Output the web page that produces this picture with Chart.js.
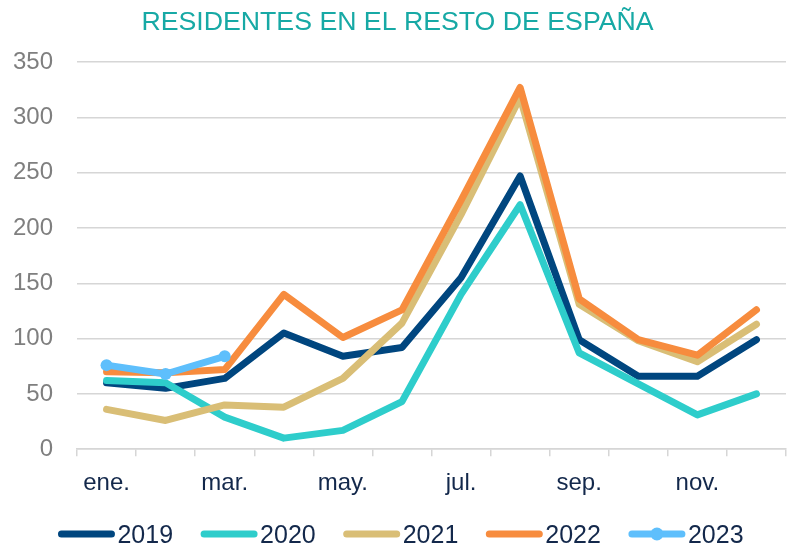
<!DOCTYPE html>
<html>
<head>
<meta charset="utf-8">
<script src="https://cdn.jsdelivr.net/npm/chart.js@4"></script>
<style>
  html, body { margin: 0; padding: 0; background: #ffffff; }
  #wrap { width: 792px; height: 547px; }
</style>
</head>
<body>
<div id="wrap"><canvas id="residentesChart" width="792" height="547"></canvas></div>
<script>
var months = ['ene.', 'feb.', 'mar.', 'abr.', 'may.', 'jun.', 'jul.', 'ago.', 'sep.', 'oct.', 'nov.', 'dic.'];
var yTicks = [0, 50, 100, 150, 200, 250, 300, 350];

var years = ['2019', '2020', '2021', '2022', '2023'];
var v2019 = [60, 55, 64, 105, 84, 92, 155, 247, 99, 66, 66, 99];
var v2020 = [62, 60, 29, 10, 17, 43, 140, 221, 87, 59, 31, 50];
var v2021 = [36, 26, 40, 38, 64, 114, 212, 318, 131, 98, 79, 113];
var v2022 = [70, 69, 72, 140, 101, 126, 225, 327, 136, 99, 85, 126];
var v2023 = [76, 68, 84];

var lineColors = ['#00467f', '#2ecdcb', '#d9be76', '#f78c3e', '#5ebffc'];
var allValues = [v2019, v2020, v2021, v2022, v2023];

var gridColor = '#d6d6d6';
var navyText = '#13284b';

var datasets = years.map(function(year, i) {
    var isLast = i === years.length - 1;
    return {
        label: year,
        data: allValues[i],
        borderColor: lineColors[i],
        backgroundColor: lineColors[i],
        borderWidth: 7,
        borderCapStyle: 'round',
        borderJoinStyle: 'round',
        pointRadius: isLast ? 6 : 0,
        pointBorderWidth: 0,
        pointBackgroundColor: lineColors[i],
        tension: 0,
        fill: false,
        order: years.length - i
    };
});

// legend drawn by hand: long rounded line + text, close together like the original
var lineLegend = {
    id: 'lineLegend',
    afterDraw: function(chart) {
        var ctx = chart.ctx;
        var lineLen = 56, gapText = 3, gapItem = 28, yLine = 534;
        ctx.save();
        ctx.font = '25px "Liberation Sans", Arial, sans-serif';
        var widths = chart.data.datasets.map(function(ds) {
            return lineLen + gapText + ctx.measureText(ds.label).width;
        });
        var total = widths.reduce(function(a, b) { return a + b; }, 0) + gapItem * (widths.length - 1);
        var x = 401 - total / 2;
        chart.data.datasets.forEach(function(ds, i) {
            ctx.strokeStyle = ds.borderColor;
            ctx.lineWidth = 7;
            ctx.lineCap = 'round';
            ctx.beginPath();
            ctx.moveTo(x + 3, yLine);
            ctx.lineTo(x + lineLen - 3, yLine);
            ctx.stroke();
            if (ds.pointRadius > 0) {
                ctx.fillStyle = ds.borderColor;
                ctx.beginPath();
                ctx.arc(x + lineLen / 2, yLine, 6.5, 0, Math.PI * 2);
                ctx.fill();
            }
            ctx.fillStyle = navyText;
            ctx.textBaseline = 'middle';
            ctx.textAlign = 'left';
            ctx.fillText(ds.label, x + lineLen + gapText, yLine + 2);
            x += widths[i] + gapItem;
        });
        ctx.restore();
    }
};

var ctx = document.getElementById('residentesChart').getContext('2d');
var myChart = new Chart(ctx, {
    type: 'line',
    data: {
        labels: months,
        datasets: datasets
    },
    options: {
        responsive: false,
        animation: false,
        layout: {
            padding: { left: 0, right: -3, top: 0, bottom: 36 }
        },
        plugins: {
            legend: { display: false },
            tooltip: { enabled: false },
            title: {
                display: true,
                text: 'RESIDENTES EN EL RESTO DE ESPAÑA',
                color: '#17a9a5',
                font: { family: '"Liberation Sans", Arial, sans-serif', size: 26.7, weight: 'normal' },
                padding: { top: 7, bottom: 23 }
            }
        },
        scales: {
            x: {
                offset: true,
                grid: {
                    offset: true,
                    drawOnChartArea: false,
                    drawTicks: true,
                    tickLength: 7,
                    color: gridColor,
                    lineWidth: 1.5
                },
                border: { display: true, color: gridColor, width: 1.5 },
                ticks: {
                    autoSkip: false,
                    maxRotation: 0,
                    padding: 13,
                    color: navyText,
                    font: { family: '"Liberation Sans", Arial, sans-serif', size: 24 },
                    callback: function(value, index) {
                        return index % 2 === 0 ? months[index] : '';
                    }
                }
            },
            y: {
                min: yTicks[0],
                max: yTicks[yTicks.length - 1],
                afterFit: function(scale) { scale.width = 77; },
                afterBuildTicks: function(scale) {
                    scale.ticks = yTicks.map(function(v) { return { value: v }; });
                },
                grid: {
                    drawTicks: false,
                    color: gridColor,
                    lineWidth: 1.5
                },
                border: { display: false },
                ticks: {
                    padding: 24,
                    color: '#7f7f7f',
                    font: { family: '"Liberation Sans", Arial, sans-serif', size: 24 }
                }
            }
        }
    },
    plugins: [lineLegend]
});
</script>
</body>
</html>
